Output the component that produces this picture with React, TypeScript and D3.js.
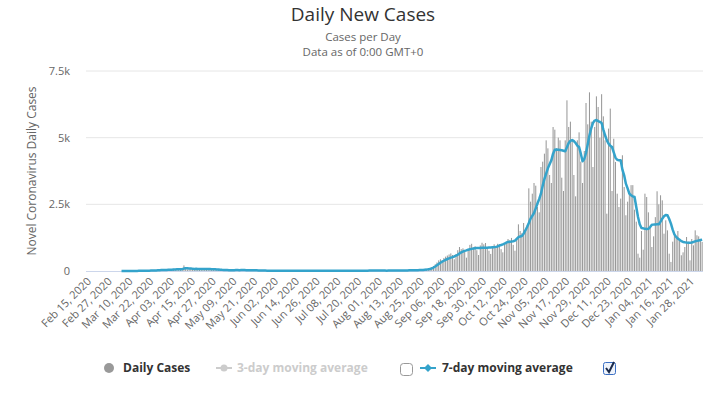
import React from 'react';
import * as d3 from 'd3';

// categories: one per day, Feb 15 2020 .. Feb 04 2021
const startDate = new Date(2020, 1, 15);
const endDate = new Date(2021, 1, 5);
const tickEvery = 12;

const yTicks = [0, 2500, 5000, 7500];
const yTickLabels = ['0', '2.5k', '5k', '7.5k'];

const noData = [null, null, null, null, null, null, null, null, null, null,
  null, null, null, null, null, null, null, null, null, null];

// daily new cases (bars)
const dailyCases: (number | null)[] = [
  ...noData,
  // Mar
  2, 0, 2, 1, 3, 3, 3, 11, 5, 2, 11, 11, 8, 23, 12, 18, 18, 20, 19, 39, 35, 40, 43, 35, 39, 45,
  // Apr
  60, 60, 33, 58, 79, 78, 73, 55, 85, 78, 210, 111, 58, 64, 89, 48, 99, 75, 62, 106,
  70, 74, 70, 76, 64, 80, 45, 46, 67, 40,
  // May
  38, 35, 29, 26, 36, 35, 23, 27, 36, 31, 50, 32, 28, 35, 29, 25, 26, 19, 24, 30,
  35, 23, 14, 17, 16, 19, 11, 10, 12, 9, 5,
  // Jun
  14, 9, 12, 8, 8, 6, 11, 5, 7, 4, 6, 5, 8, 9, 3, 5, 2, 8, 7, 10,
  11, 5, 10, 5, 6, 6, 5, 12, 4, 6,
  // Jul
  5, 3, 4, 8, 2, 12, 3, 5, 8, 7, 1, 8, 11, 9, 9, 11, 7, 10, 12, 12,
  6, 12, 16, 22, 7, 14, 18, 22, 14, 13, 22,
  // Aug
  17, 11, 19, 15, 14, 13, 15, 29, 24, 14, 16, 21, 23, 32, 25, 13, 26, 26, 36, 31,
  20, 39, 29, 44, 37, 45, 50, 60, 75, 95, 120,
  // Sep
  150, 190, 250, 320, 400, 440, 380, 490, 540, 580, 620, 660, 600, 440, 640, 780, 900, 820, 850, 720,
  500, 800, 980, 1020, 880, 930, 780, 600, 960, 1060,
  // Oct
  1000, 1050, 900, 760, 640, 920, 1000, 940, 1020, 990, 820, 700, 1000, 1080, 1200, 1150, 1240, 980, 760, 1250,
  1750, 1500, 1420, 1800, 1500, 1700, 3100, 2600, 2900, 3300, 3200,
  // Nov
  2400, 2200, 3900, 4100, 4400, 4900, 4600, 3600, 3300, 5400, 5300, 4600, 5000, 4900, 3500, 3000, 4900, 6400, 5400, 5600,
  4900, 3600, 2800, 4900, 5200, 4100, 3300, 4500, 6300, 5500,
  // Dec
  6700, 5600, 3900, 5400, 6550, 6150, 5000, 6630, 5800, 4900, 2150, 5340, 6090, 3000, 4960, 4090, 2900, 2400, 2715, 4340,
  3150, 2090, 2600, 2900, 3220, 3220, 2300, 1850, 650, 500, 1500,
  // Jan
  800, 2900, 2775, 2200, 1650, 900, 1300, 2020, 2990, 2500, 2840, 2650, 1400, 1900, 1525, 650, 340, 1100, 1400, 1275,
  1500, 1150, 590, 700, 900, 1275, 1100, 400, 1200, 963, 1525,
  // Feb
  1340, 1300, 1200, 1090,
];

// 7-day moving average (line)
const movingAvg7: (number | null)[] = [
  ...noData,
  2, 1, 1, 1, 2, 2, 2, 3, 4, 4, 5, 6, 7, 10, 10, 12, 14, 16, 16, 21, 23, 27, 31, 33, 36, 39,
  42, 45, 44, 46, 52, 59, 63, 62, 66, 69, 91, 99, 99, 97, 98, 81, 79, 81, 74, 78,
  76, 76, 72, 76, 74, 74, 69, 65, 64, 60,
  54, 48, 43, 40, 37, 35, 32, 31, 32, 31, 33, 33, 32, 33, 34, 33, 32, 28, 28, 27,
  27, 26, 24, 23, 23, 21, 18, 16, 14, 13, 11,
  11, 10, 10, 10, 10, 9, 10, 8, 8, 7, 7, 6, 7, 6, 6, 6, 5, 6, 6, 6,
  7, 7, 8, 7, 8, 7, 8, 8, 7, 7,
  6, 6, 6, 6, 5, 6, 5, 5, 6, 6, 6, 6, 7, 8, 8, 9, 8, 9, 10, 10,
  10, 10, 11, 13, 12, 13, 15, 17, 16, 16, 16,
  16, 16, 16, 15, 15, 14, 15, 16, 18, 18, 18, 19, 20, 21, 22, 21, 22, 22, 26, 27,
  25, 27, 30, 32, 34, 37, 38, 45, 52, 63, 76,
  100, 130, 170, 215, 265, 310, 350, 385, 420, 450, 475, 500, 520, 545, 575, 610, 660, 700, 730, 755,
  775, 800, 815, 830, 840, 850, 860, 860, 865, 870,
  870, 872, 875, 880, 885, 890, 895, 905, 920, 955, 975, 1000, 1030, 1060, 1090, 1100, 1105, 1115, 1140, 1200,
  1270, 1295, 1315, 1400, 1520, 1650, 1800, 1960, 2070, 2175, 2350,
  2530, 2700, 2900, 3200, 3450, 3650, 3850, 4000, 4150, 4400, 4550, 4560, 4550, 4540, 4530, 4510, 4490, 4640, 4800, 4880,
  4910, 4870, 4800, 4700, 4650, 4400, 4115, 4200, 4425, 4750,
  5090, 5350, 5550, 5640, 5660, 5620, 5590, 5550, 5300, 5090, 4900, 4775, 4700, 4650, 4450, 4250, 4170, 4150, 4150, 3800,
  3590, 3275, 3100, 2900, 2840, 2800, 2775, 2400, 2025, 1750, 1613,
  1600, 1580, 1575, 1580, 1650, 1738, 1740, 1745, 1750, 1750, 1850, 1963, 2050, 2100, 2088, 1950, 1775, 1550, 1375, 1280,
  1213, 1170, 1120, 1088, 1075, 1065, 1060, 1063, 1070, 1090, 1113,
  1130, 1140, 1160, 1175,
];

const legendItems = ['Daily Cases', '3-day moving average', '7-day moving average'];

const W = 712;
const H = 395;
const plot = { left: 86, right: 703, top: 71, bottom: 271 };
const font = '"Open Sans", "DejaVu Sans", sans-serif';
const barColor = '#999999';
const lineColor = '#34a3cb';

export default function App() {
  const dates = d3.timeDays(startDate, endDate);
  const idx = dates.map((_, i) => i);
  const fmt = d3.timeFormat('%b %d, %Y');

  const x = d3.scaleBand<number>().domain(idx).range([plot.left, plot.right]).paddingInner(0.4).paddingOuter(0.2);
  const cx = (i: number) => (x(i) as number) + x.bandwidth() / 2;
  const y = d3.scaleLinear().domain([0, 7500]).range([plot.bottom, plot.top]);

  const line = d3.line<number | null>()
    .defined(d => d != null)
    .x((_, i) => cx(i))
    .y(d => y(d as number))
    .curve(d3.curveLinear);

  const ticks = idx.filter(i => i % tickEvery === 0);

  return (
    <div style={{ position: 'absolute', left: 0, top: 0 }}>
      <svg width={W} height={H} style={{ display: 'block', fontFamily: font }}>
        <rect width={W} height={H} fill="#fff" />
        <text x={363} y={21} textAnchor="middle" fontSize={19} fill="#333">Daily New Cases</text>
        <text x={363} y={41} textAnchor="middle" fontSize={11.5} fill="#666">Cases per Day</text>
        <text x={363} y={56} textAnchor="middle" fontSize={11.5} fill="#666">Data as of 0:00 GMT+0</text>

        {/* grid */}
        {yTicks.map((t, k) => (
          <g key={t}>
            {t > 0 && <line x1={plot.left} x2={plot.right} y1={y(t)} y2={y(t)} stroke="#e6e6e6" />}
            <text x={70} y={y(t) + 4} textAnchor="end" fontSize={11} fill="#666">{yTickLabels[k]}</text>
          </g>
        ))}
        <text transform={`translate(36,${(plot.top + plot.bottom) / 2}) rotate(-90)`} textAnchor="middle"
          fontSize={12} fill="#666">Novel Coronavirus Daily Cases</text>

        {/* bars */}
        {dailyCases.map((v, i) => v == null || v <= 0 ? null : (
          <rect key={i} x={x(i)} width={x.bandwidth()} y={y(v)} height={plot.bottom - y(v)} fill={barColor} />
        ))}

        <line x1={plot.left} x2={plot.right} y1={plot.bottom + 0.5} y2={plot.bottom + 0.5} stroke="#ccd6eb" />

        <path d={line(movingAvg7) || ''} fill="none" stroke={lineColor} strokeWidth={2.5} strokeLinejoin="round" />

        {/* x labels */}
        {ticks.map(i => (
          <text key={i} transform={`translate(${cx(i) + 5},${plot.bottom + 11}) rotate(-45)`} textAnchor="end"
            fontSize={11} fill="#666">{fmt(dates[i])}</text>
        ))}

        {/* legend */}
        <g fontSize={12} fontWeight="bold">
          <circle cx={109} cy={368} r={5} fill={barColor} />
          <text x={123} y={372} fill="#333">{legendItems[0]}</text>

          <line x1={216} x2={232} y1={368} y2={368} stroke="#ccc" strokeWidth={2} />
          <circle cx={224} cy={368} r={3.5} fill="#ccc" />
          <text x={237} y={372} fill="#ccc">{legendItems[1]}</text>
          <rect x={400.5} y={363.5} width={12} height={12} rx={3} fill="#fff" stroke="#999" />

          <line x1={420} x2={436} y1={368} y2={368} stroke={lineColor} strokeWidth={2} />
          <path d="M428,364 L432,368 L428,372 L424,368 Z" fill={lineColor} />
          <text x={442} y={372} fill="#333">{legendItems[2]}</text>
          <rect x={603.5} y={362.5} width={12} height={12} rx={2} fill="#eef3fb" stroke="#3b6fc4" />
          <path d="M606,368 L609,372 L614,362" fill="none" stroke="#1a2a4a" strokeWidth={2} />
        </g>
      </svg>
    </div>
  );
}
